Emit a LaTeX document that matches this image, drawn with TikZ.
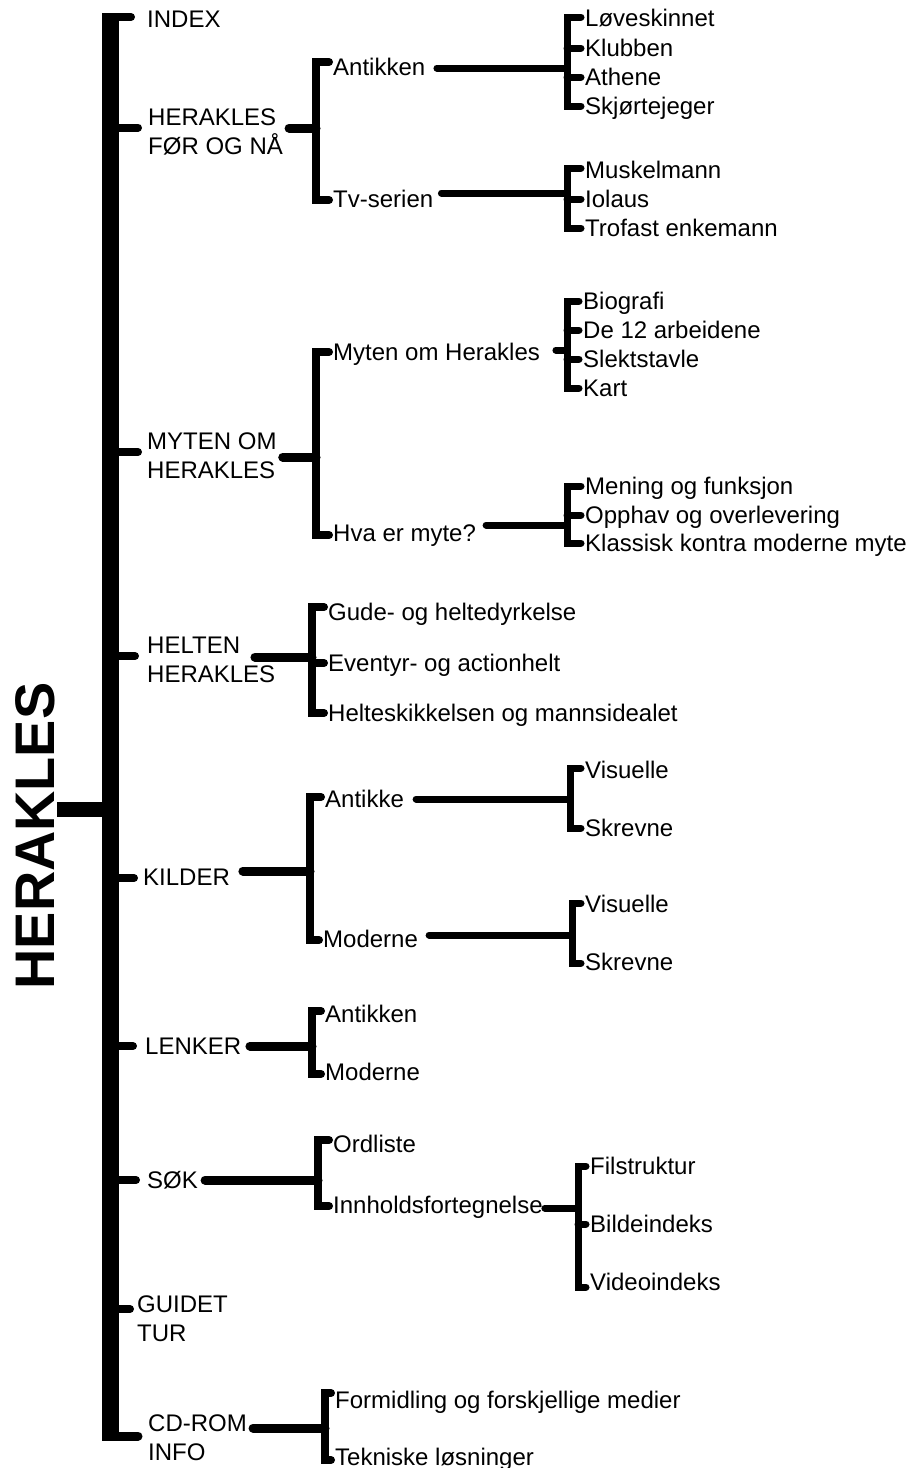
\documentclass[tikz,border=0pt]{standalone}
\usepackage{fontspec}
\setmainfont{Liberation Sans}
\newcommand\lblfont{\fontsize{24pt}{29pt}\selectfont}
\begin{document}
\begin{tikzpicture}[x=1pt,y=-1pt,
  lbl/.style={inner sep=0pt,anchor=west,font=\lblfont,text height=17pt,text depth=0pt},
  twoline/.style={inner sep=0pt,anchor=west,align=left,font=\lblfont},
  stub/.style={line width=8pt,line cap=round},
  wireA/.style={line width=9pt,line cap=round},
  brA/.style={line width=8pt,line cap=round,line join=miter},
  wireB/.style={line width=7pt,line cap=round},
  brB/.style={line width=7pt,line cap=round,line join=miter}]
\useasboundingbox (0,0) rectangle (907,1468);

% ---------------- labels ----------------
\node[rotate=90,inner sep=0pt,font=\bfseries\fontsize{55.8pt}{60pt}\selectfont] (title) at (35,836) {HERAKLES};

\node[lbl] (index) at (147,19) {INDEX};
\node[twoline] (herfor) at (148,131.5) {HERAKLES\\FØR OG NÅ};
\node[twoline] (myten) at (147,456) {MYTEN OM\\HERAKLES};
\node[twoline] (helten) at (147,659.5) {HELTEN\\HERAKLES};
\node[lbl] (kilder) at (143,877) {KILDER};
\node[lbl] (lenker) at (145,1046) {LENKER};
\node[lbl] (sok) at (147,1180) {SØK};
\node[twoline] (guidet) at (137,1319) {GUIDET\\TUR};
\node[twoline] (cdrom) at (148,1437.5) {CD-ROM\\INFO};

\node[lbl] (ant1) at (333,67) {Antikken};
\node[lbl] (tv) at (333,199) {Tv-serien};
\node[lbl] (mytoh) at (333,352) {Myten om Herakles};
\node[lbl] (hva) at (333,533) {Hva er myte?};
\node[lbl] (gude) at (328,612) {Gude- og heltedyrkelse};
\node[lbl] (even) at (328,663) {Eventyr- og actionhelt};
\node[lbl] (helt) at (328,713) {Helteskikkelsen og mannsidealet};
\node[lbl] (antk) at (325,799) {Antikke};
\node[lbl] (modk) at (323,939) {Moderne};
\node[lbl] (antl) at (325,1014) {Antikken};
\node[lbl] (modl) at (325,1072) {Moderne};
\node[lbl] (ord) at (333,1144) {Ordliste};
\node[lbl] (innh) at (333,1205) {Innholdsfortegnelse};
\node[lbl] (form) at (335,1400) {Formidling og forskjellige medier};
\node[lbl] (tekn) at (335,1457) {Tekniske løsninger};

\node[lbl] (love) at (585,18) {Løveskinnet};
\node[lbl] (klub) at (585,48) {Klubben};
\node[lbl] (athe) at (585,77) {Athene};
\node[lbl] (skjo) at (585,106) {Skjørtejeger};
\node[lbl] (musk) at (585,170) {Muskelmann};
\node[lbl] (iola) at (585,199) {Iolaus};
\node[lbl] (trof) at (585,228) {Trofast enkemann};
\node[lbl] (bio) at (583,301) {Biografi};
\node[lbl] (arb) at (583,330) {De 12 arbeidene};
\node[lbl] (slek) at (583,359) {Slektstavle};
\node[lbl] (kart) at (583,388) {Kart};
\node[lbl] (men) at (585,486) {Mening og funksjon};
\node[lbl] (opp) at (585,515) {Opphav og overlevering};
\node[lbl] (kla) at (585,543) {Klassisk kontra moderne myte};
\node[lbl] (vis1) at (585,770) {Visuelle};
\node[lbl] (skr1) at (585,828) {Skrevne};
\node[lbl] (vis2) at (585,904) {Visuelle};
\node[lbl] (skr2) at (585,962) {Skrevne};
\node[lbl] (fil) at (590,1166) {Filstruktur};
\node[lbl] (bild) at (590,1224) {Bildeindeks};
\node[lbl] (vid) at (590,1282) {Videoindeks};

% ---------------- main spine ----------------
\coordinate (sp-top) at (110,13);
\coordinate (sp-bot) at (110,1440.5);
\draw[line width=17pt] (sp-top) -- (sp-bot);

\coordinate (tt) at ([xshift=2.5pt]title.south);
\coordinate (sp-title) at (110,809.5);
\draw[line width=15pt] (tt |- sp-title) -- (sp-title);

% stubs from the spine to the top-level entries
\coordinate (a-index) at ([xshift=-16pt,yshift=2pt]index.west);
\coordinate (a-herfor) at ([xshift=-10pt,yshift=4pt]herfor.west);
\coordinate (a-myten) at ([xshift=-9pt,yshift=4pt]myten.west);
\coordinate (a-helten) at ([xshift=-12pt,yshift=3.5pt]helten.west);
\coordinate (a-kilder) at ([xshift=-9pt,yshift=-1pt]kilder.west);
\coordinate (a-lenker) at ([xshift=-12pt]lenker.west);
\coordinate (a-sok) at ([xshift=-11pt]sok.west);
\coordinate (a-guidet) at ([xshift=-7pt,yshift=10pt]guidet.west);
\coordinate (a-cdrom) at ([xshift=-10pt,yshift=1.5pt]cdrom.west);
\foreach \n in {index,herfor,myten,helten,kilder,lenker,sok,guidet}
  \draw[stub] (a-\n -| sp-top) -- (a-\n);
\draw[stub,line width=9pt] (a-cdrom -| sp-top) -- (a-cdrom);

% ---------------- bracket columns ----------------
\coordinate (x316) at (316,0);
\coordinate (x312) at (312,0);
\coordinate (x310) at (310,0);
\coordinate (x318) at (318,0);
\coordinate (x325) at (325,0);
\coordinate (x567) at (567,0);
\coordinate (x570) at (570,0);
\coordinate (x572) at (572,0);
\coordinate (x578) at (578,0);

% HERAKLES FØR OG NÅ
\coordinate (p-herfor) at ([xshift=6pt,yshift=3.5pt]herfor.east);
\coordinate (b-herfor) at (p-herfor -| x316);
\draw[wireA] (p-herfor) -- (b-herfor);
\draw[brA] ([xshift=-4pt,yshift=5pt]ant1.west) -| (b-herfor) |- ([xshift=-4pt,yshift=-1pt]tv.west);

\coordinate (p-ant1) at ([xshift=11.5pt,yshift=-1pt]ant1.east);
\coordinate (b-ant1) at (p-ant1 -| x567);
\draw[wireB] (p-ant1) -- (b-ant1);
\draw[brB] ([xshift=-4pt,yshift=1pt]love.west) -| (b-ant1) |- ([xshift=-4pt]skjo.west);
\draw[brB] (klub.west -| b-ant1) -- ([xshift=-4pt]klub.west);
\draw[brB] (athe.west -| b-ant1) -- ([xshift=-4pt]athe.west);

\coordinate (p-tv) at ([xshift=8pt,yshift=6pt]tv.east);
\coordinate (b-tv) at (p-tv -| x567);
\draw[wireB] (p-tv) -- (b-tv);
\draw[brB] ([xshift=-4pt,yshift=2pt]musk.west) -| (b-tv) |- ([xshift=-4pt]trof.west);
\draw[brB] (iola.west -| b-tv) -- ([xshift=-4pt]iola.west);

% MYTEN OM HERAKLES
\coordinate (p-myten) at ([xshift=6pt,yshift=-1pt]myten.east);
\coordinate (b-myten) at (p-myten -| x316);
\draw[wireA] (p-myten) -- (b-myten);
\draw[brA] ([xshift=-4pt]mytoh.west) -| (b-myten) |- ([xshift=-4pt,yshift=-2pt]hva.west);

\coordinate (p-mytoh) at ([xshift=15.8pt,yshift=2pt]mytoh.east);
\coordinate (b-mytoh) at (p-mytoh -| x567);
\draw[wireB] (p-mytoh) -- (b-mytoh);
\draw[brB] ([xshift=-4pt]bio.west) -| (b-mytoh) |- ([xshift=-4pt]kart.west);
\draw[brB] (arb.west -| b-mytoh) -- ([xshift=-4pt]arb.west);
\draw[brB] (slek.west -| b-mytoh) -- ([xshift=-4pt]slek.west);

\coordinate (p-hva) at ([xshift=10pt,yshift=8pt]hva.east);
\coordinate (b-hva) at (p-hva -| x567);
\draw[wireB] (p-hva) -- (b-hva);
\draw[brB] ([xshift=-4pt]men.west) -| (b-hva) |- ([xshift=-4pt]kla.west);
\draw[brB] (opp.west -| b-hva) -- ([xshift=-4pt]opp.west);

% HELTEN HERAKLES
\coordinate (p-helten) at ([xshift=-20.5pt,yshift=2.5pt]helten.east);
\coordinate (b-helten) at (p-helten -| x312);
\draw[wireA] (p-helten) -- (b-helten);
\draw[brA] ([xshift=-4pt,yshift=5pt]gude.west) -| (b-helten) |- ([xshift=-4pt]helt.west);
\draw[brA] (even.west -| b-helten) -- ([xshift=-4pt]even.west);

% KILDER
\coordinate (p-kilder) at ([xshift=12.8pt,yshift=6pt]kilder.east);
\coordinate (b-kilder) at (p-kilder -| x310);
\draw[wireA] (p-kilder) -- (b-kilder);
\draw[brA] ([xshift=-4pt,yshift=2pt]antk.west) -| (b-kilder) |- ([xshift=-4pt,yshift=-1pt]modk.west);

\coordinate (p-antk) at ([xshift=12pt]antk.east);
\coordinate (b-antk) at (p-antk -| x570);
\draw[wireB] (p-antk) -- (b-antk);
\draw[brB] ([xshift=-4pt,yshift=2pt]vis1.west) -| (b-antk) |- ([xshift=-4pt]skr1.west);

\coordinate (p-modk) at ([xshift=11pt,yshift=4pt]modk.east);
\coordinate (b-modk) at (p-modk -| x572);
\draw[wireB] (p-modk) -- (b-modk);
\draw[brB] ([xshift=-4pt,yshift=1pt]vis2.west) -| (b-modk) |- ([xshift=-4pt,yshift=-1pt]skr2.west);

% LENKER
\coordinate (p-lenker) at ([xshift=8.5pt]lenker.east);
\coordinate (b-lenker) at (p-lenker -| x312);
\draw[wireA] (p-lenker) -- (b-lenker);
\draw[brA] ([xshift=-4pt,yshift=3pt]antl.west) -| (b-lenker) |- ([xshift=-4pt,yshift=-2pt]modl.west);

% SØK
\coordinate (p-sok) at ([xshift=7pt]sok.east);
\coordinate (b-sok) at (p-sok -| x318);
\draw[wireA] (p-sok) -- (b-sok);
\draw[brA] ([xshift=-4pt,yshift=4pt]ord.west) -| (b-sok) |- ([xshift=-4pt,yshift=-1pt]innh.west);

\coordinate (p-innh) at ([xshift=2pt,yshift=-3pt]innh.east);
\coordinate (b-innh) at (p-innh -| x578);
\draw[wireB] (p-innh) -- (b-innh);
\draw[brB] ([xshift=-4pt]fil.west) -| (b-innh) |- ([xshift=-4pt,yshift=-5pt]vid.west);
\draw[brB] (bild.west -| b-innh) -- ([xshift=-4pt]bild.west);

% CD-ROM INFO
\coordinate (p-cdrom) at ([xshift=6pt,yshift=9.5pt]cdrom.east);
\coordinate (b-cdrom) at (p-cdrom -| x325);
\draw[wireA] (p-cdrom) -- (b-cdrom);
\draw[brA] ([xshift=-4pt,yshift=7pt]form.west) -| (b-cdrom) |- ([xshift=-4pt,yshift=-3pt]tekn.west);
\end{tikzpicture}
\end{document}
